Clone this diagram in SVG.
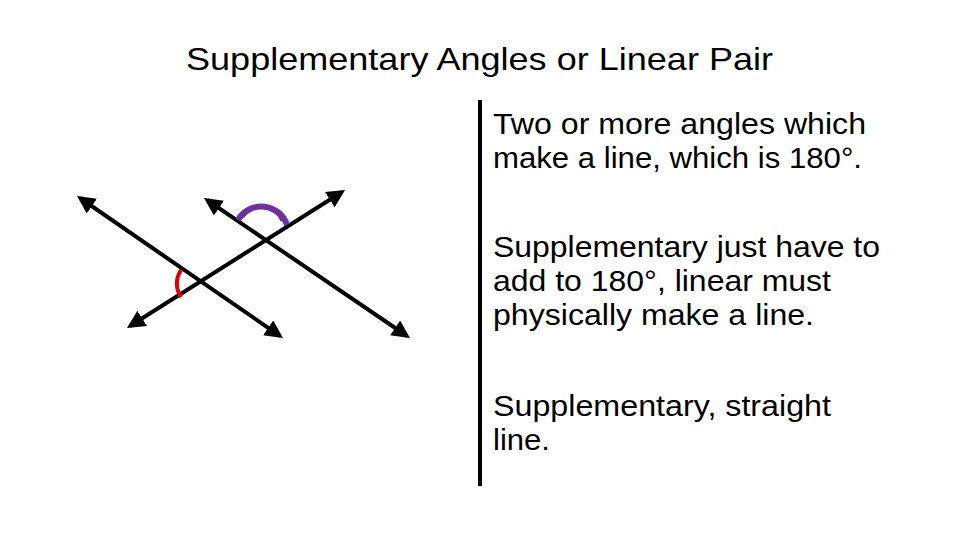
<svg xmlns="http://www.w3.org/2000/svg" width="960" height="540" viewBox="0 0 960 540">
<defs><marker id="a" viewBox="0 0 10 10" refX="8" refY="5" markerWidth="4.5" markerHeight="4.5" orient="auto-start-reverse"><path d="M0,0L10,5L0,10z" fill="#000"/></marker></defs>
<style>text{font-family:"Liberation Sans",Arial,sans-serif;fill:#000}.t{font-size:29px}.l{stroke:#000;stroke-width:4;fill:none;marker-start:url(#a);marker-end:url(#a)}</style>
<rect width="960" height="540" fill="#fff"/>
<text x="186" y="70" font-size="32" textLength="587" lengthAdjust="spacingAndGlyphs">Supplementary Angles or Linear Pair</text>
<g id="divider"><line x1="480" y1="100" x2="480" y2="486" stroke="#000" stroke-width="4"/></g>
<g id="text1"><text class="t" x="493" y="134" textLength="373" lengthAdjust="spacingAndGlyphs">Two or more angles which</text><text class="t" x="493" y="168" textLength="369" lengthAdjust="spacingAndGlyphs">make a line, which is 180°.</text></g>
<g id="text2"><text class="t" x="493" y="257" textLength="387" lengthAdjust="spacingAndGlyphs">Supplementary just have to</text><text class="t" x="493" y="291" textLength="338" lengthAdjust="spacingAndGlyphs">add to 180°, linear must</text><text class="t" x="493" y="325" textLength="321" lengthAdjust="spacingAndGlyphs">physically make a line.</text></g>
<g id="text3"><text class="t" x="493" y="416" textLength="338" lengthAdjust="spacingAndGlyphs">Supplementary, straight</text><text class="t" x="493" y="450" textLength="57" lengthAdjust="spacingAndGlyphs">line.</text></g>
<g id="connectors">
<line class="l" x1="80" y1="198" x2="280" y2="336"/>
<line class="l" x1="207" y1="200" x2="407" y2="336"/>
<line class="l" x1="130" y1="326" x2="342" y2="192"/>
</g>
<g id="arcs">
<path d="M238,220 A27,27 0 0 1 287,225" stroke="#7030a0" stroke-width="6" fill="none"/>
<path d="M243,217 A22,22 0 0 1 282,221" stroke="#7030a0" stroke-width="3" fill="none"/>
<path d="M181,297 A24,24 0 0 1 181,270" stroke="#e00000" stroke-width="4" fill="none"/>
</g>
</svg>
